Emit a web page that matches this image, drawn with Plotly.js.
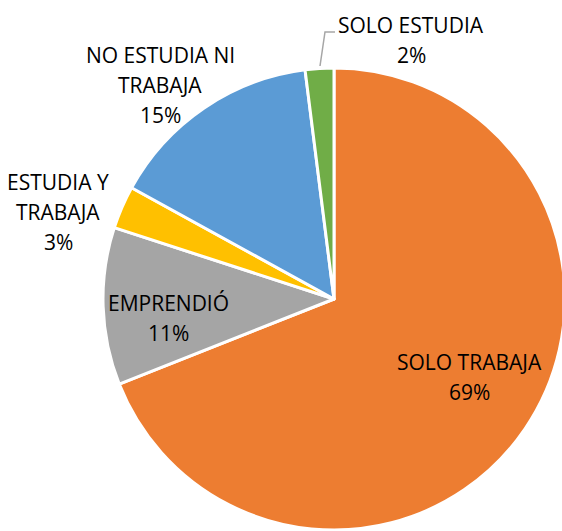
<!DOCTYPE html>
<html>
<head>
<meta charset="utf-8">
<script src="https://cdn.plot.ly/plotly-3.0.1.min.js"></script>
<style>
html,body{margin:0;padding:0;overflow:hidden;background:#fff;}
#chart{width:600px;height:531px;}
</style>
</head>
<body>
<div id="chart"></div>
<script>
// Data
const categories = ['SOLO TRABAJA', 'EMPRENDIÓ', 'ESTUDIA Y TRABAJA', 'NO ESTUDIA NI TRABAJA', 'SOLO ESTUDIA'];
const values = [69, 11, 3, 15, 2];
const labelLines = [['SOLO TRABAJA'], ['EMPRENDIÓ'], ['ESTUDIA Y', 'TRABAJA'], ['NO ESTUDIA NI', 'TRABAJA'], ['SOLO ESTUDIA']];
const colors = ['#ED7D31', '#A5A5A5', '#FFC000', '#5B9BD5', '#70AD47'];

// Layout (pixel positions of label blocks: center x, first-line center y)
const W = 600, H = 531;
const labelPos = [[469, 362], [168, 303], [58, 182], [160, 55], [411, 25]];
const lineGap = 30;
const px = x => x / W;
const py = y => 1 - y / H;

const total = values.reduce((a, b) => a + b, 0);
const annotations = [];
categories.forEach((c, i) => {
  const lines = labelLines[i].concat([Math.round(values[i] / total * 100) + '%']);
  lines.forEach((t, j) => {
    annotations.push({
      text: t, xref: 'paper', yref: 'paper',
      x: px(labelPos[i][0]), y: py(labelPos[i][1] + j * lineGap),
      xanchor: 'center', yanchor: 'middle', showarrow: false,
      font: {family: '"Open Sans", sans-serif', size: 21, color: '#000'}
    });
  });
});

const trace = {
  type: 'pie',
  labels: categories,
  values: values,
  sort: false,
  direction: 'clockwise',
  rotation: 0,
  textinfo: 'none',
  hoverinfo: 'label+percent',
  marker: {colors: colors, line: {color: '#ffffff', width: 3}},
  domain: {x: [px(103), px(565)], y: [py(530), py(68)]},
  showlegend: false
};

const layout = {
  width: W, height: H,
  margin: {l: 0, r: 0, t: 0, b: 0},
  paper_bgcolor: '#fff',
  showlegend: false,
  annotations: annotations,
  shapes: [{
    type: 'path', xref: 'paper', yref: 'paper',
    path: 'M ' + px(320) + ',' + py(66) + ' L ' + px(325) + ',' + py(32) + ' L ' + px(335) + ',' + py(32),
    line: {color: '#A6A6A6', width: 1.5}
  }]
};

Plotly.newPlot('chart', [trace], layout, {displayModeBar: false, staticPlot: true});
</script>
</body>
</html>
